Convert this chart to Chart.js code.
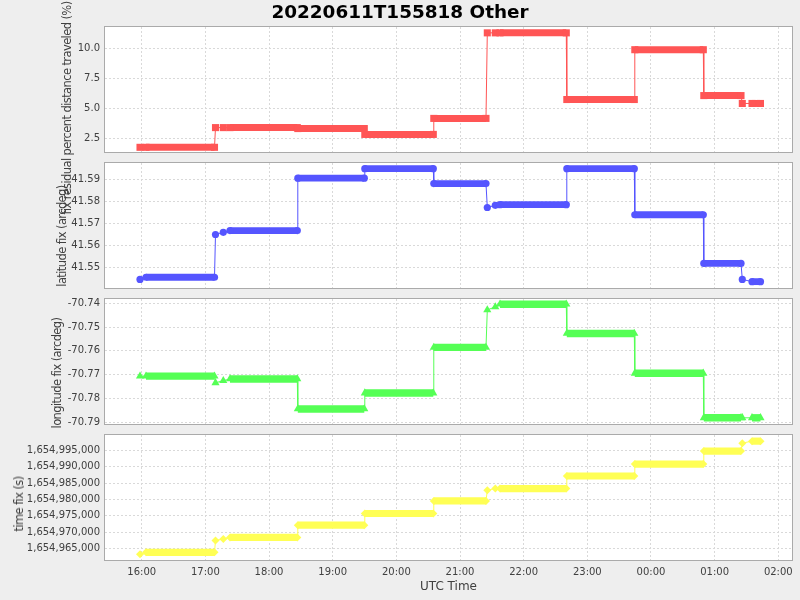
<!DOCTYPE html>
<html>
<head>
<meta charset="utf-8">
<title>20220611T155818 Other</title>
<script src="https://cdn.jsdelivr.net/npm/chart.js@4/dist/chart.umd.min.js"></script>
<style>
body { margin:0; background:#eeeeee; font-family:"DejaVu Sans", sans-serif; }
#wrap { position:relative; width:800px; height:600px; overflow:hidden; }
#wrap canvas { position:absolute; left:0; top:0; }
#title { position:absolute; left:0; top:1px; width:800px; text-align:center; font-size:18.4px; font-weight:bold; color:#000; }
.ylab { position:absolute; font-size:11.5px; letter-spacing:-0.6px; color:#404040; white-space:nowrap; transform:translate(-50%,-50%) rotate(-90deg); }
</style>
</head>
<body>
<div id="wrap">
<canvas id="c0" width="800" height="600"></canvas>
<canvas id="c1" width="800" height="600"></canvas>
<canvas id="c2" width="800" height="600"></canvas>
<canvas id="c3" width="800" height="600"></canvas>
<div id="title">20220611T155818 Other</div>
<div class="ylab" style="left:67px;top:108px">fix residual percent distance traveled (%)</div>
<div class="ylab" style="left:61.5px;top:236px">latitude fix (arcdeg)</div>
<div class="ylab" style="left:57px;top:372.5px">longitude fix (arcdeg)</div>
<div class="ylab" style="left:19px;top:503.5px">time fix (s)</div>
</div>
<script>

// UTC time of each fix (after midnight = next day)
const fixTimes = ['15:58:24','16:04:03','17:08:37','17:09:33','17:16:54','17:23:13','18:26:39','18:27:08',
  '19:29:48','19:30:16','20:34:50','20:35:18','21:24:30','21:25:44','21:33:16','21:37:42',
  '22:40:11','22:40:40','23:44:17','23:44:45','00:49:19','00:49:47','01:24:51','01:26:04',
  '01:35:13','01:43:13']

// fixes that stand alone, not part of a held run
const isolatedFixes = [0, 3, 4, 13, 14, 23]

const residualPct = [1.75,1.75,1.75,3.40,3.40,3.40,3.40,3.32,3.32,2.83,2.83,4.17,4.17,11.33,11.33,11.33,
  11.33,5.75,5.75,9.92,9.92,6.08,6.08,5.42,5.42,5.42]

const latitudeFix = [41.5445,41.5455,41.5455,41.5650,41.5660,41.5668,41.5668,41.5907,41.5907,41.5950,
  41.5950,41.5882,41.5882,41.5773,41.5783,41.5786,41.5786,41.5950,41.5950,41.5740,41.5740,41.5518,
  41.5518,41.5445,41.5435,41.5435]

const longitudeFix = [-70.7706,-70.7706,-70.7706,-70.7734,-70.7725,-70.7718,-70.7718,-70.7844,-70.7844,
  -70.7777,-70.7777,-70.7585,-70.7585,-70.7428,-70.7415,-70.7404,-70.7404,-70.7527,-70.7527,-70.7694,
  -70.7694,-70.7881,-70.7881,-70.7881,-70.7881,-70.7881]

const timeFix = [1654963170,1654963780,1654963780,1654967440,1654967840,1654968360,1654968360,1654972110,
  1654972110,1654975680,1654975680,1654979530,1654979530,1654982800,1654983320,1654983320,1654983320,
  1654987160,1654987160,1654990820,1654990820,1654994790,1654994790,1654997240,1654997850,1654997850]

const hourLabels = ['16:00','17:00','18:00','19:00','20:00','21:00','22:00','23:00','00:00','01:00','02:00']
const residualTicks = [2.5, 5.0, 7.5, 10.0]
const latitudeTicks = [41.55, 41.56, 41.57, 41.58, 41.59]
const longitudeTicks = [-70.79, -70.78, -70.77, -70.76, -70.75, -70.74]
const timeFixTicks = [1654965000,1654970000,1654975000,1654980000,1654985000,1654990000,1654995000]

function toHours(s){
  let p = s.split(':').map(Number)
  let h = p[0] + p[1]/60 + (p[2] || 0)/3600
  return h < 12 ? h + 24 : h
}

Chart.defaults.font.family = '"DejaVu Sans", sans-serif'
Chart.defaults.font.size = 10
Chart.defaults.color = '#404040'

const plotBox = {
  id: 'plotBox',
  beforeDraw(chart){
    let a = chart.chartArea, ctx = chart.ctx
    ctx.save()
    ctx.fillStyle = '#ffffff'
    ctx.fillRect(a.left, a.top, a.right - a.left, a.bottom - a.top)
    ctx.restore()
  },
  afterDraw(chart){
    let a = chart.chartArea, ctx = chart.ctx
    ctx.save()
    ctx.strokeStyle = '#aaaaaa'
    ctx.lineWidth = 1
    ctx.strokeRect(a.left - 0.5, a.top - 0.5, a.right - a.left + 1, a.bottom - a.top + 1)
    ctx.restore()
  }
}

const panels = [
  {id:'c0', values:residualPct, color:'#ff5555', shape:'rect', radius:5, band:7,
   min:1.358, max:11.82, ticks:residualTicks, fmt:v => v.toFixed(1), top:27, bottom:152},
  {id:'c1', values:latitudeFix, color:'#5555ff', shape:'circle', radius:3.6, band:6.8,
   min:41.5406, max:41.5976, ticks:latitudeTicks, fmt:v => v.toFixed(2), top:163, bottom:288},
  {id:'c2', values:longitudeFix, color:'#55ff55', shape:'triangle', radius:4.7, band:7.4,
   min:-70.7907, max:-70.7382, ticks:longitudeTicks, fmt:v => v.toFixed(2), top:299, bottom:424},
  {id:'c3', values:timeFix, color:'#ffff55', shape:'rectRot', radius:4, band:7.2,
   min:1654961430, max:1654999730, ticks:timeFixTicks, fmt:v => v.toLocaleString('en-US'), top:435, bottom:560}
]

const gridColor = '#d9d9d9'

panels.forEach((p, n) => {

let last = n === panels.length - 1

let held = ctx => ctx.p0.parsed.y === ctx.p1.parsed.y &&
  !isolatedFixes.includes(ctx.p0DataIndex) && !isolatedFixes.includes(ctx.p1DataIndex)

new Chart(document.getElementById(p.id), {
  type: 'line',
  data: {
    datasets: [{
      data: fixTimes.map((t, i) => ({x: toHours(t), y: p.values[i]})),
      borderColor: p.color,
      backgroundColor: p.color,
      borderWidth: 1,
      pointStyle: p.shape,
      pointRadius: p.radius,
      pointBorderWidth: 0,
      pointBackgroundColor: p.color,
      tension: 0,
      fill: false,
      segment: { borderWidth: ctx => held(ctx) ? p.band : 1 }
    }]
  },
  options: {
    responsive: false,
    animation: false,
    events: [],
    layout: { autoPadding: false, padding: {left: 0, right: 8, top: p.top, bottom: last ? 0 : 600 - p.bottom} },
    plugins: { legend: {display: false}, tooltip: {enabled: false} },
    scales: {
      x: {
        type: 'linear',
        min: 15.4235,
        max: 26.2152,
        afterBuildTicks: s => { s.ticks = hourLabels.map(h => ({value: toHours(h)})) },
        afterFit: s => { s.height = last ? 40 : 0 },
        grid: { color: gridColor, drawTicks: false },
        border: { display: false, dash: [2, 2] },
        ticks: {
          display: last,
          padding: 6,
          maxRotation: 0,
          autoSkip: false,
          callback: v => hourLabels.find(h => Math.abs(toHours(h) - v) < 0.01) || ''
        },
        title: { display: last, text: 'UTC Time', font: {size: 12}, padding: {top: 4, bottom: 6} }
      },
      y: {
        min: p.min,
        max: p.max,
        afterBuildTicks: s => { s.ticks = p.ticks.map(v => ({value: v})) },
        afterFit: s => { s.width = 105 },
        grid: { color: gridColor, drawTicks: false },
        border: { display: false, dash: [2, 2] },
        ticks: { padding: 5, autoSkip: false, callback: v => p.fmt(v) }
      }
    }
  },
  plugins: [plotBox]
})

})

</script>
</body>
</html>
